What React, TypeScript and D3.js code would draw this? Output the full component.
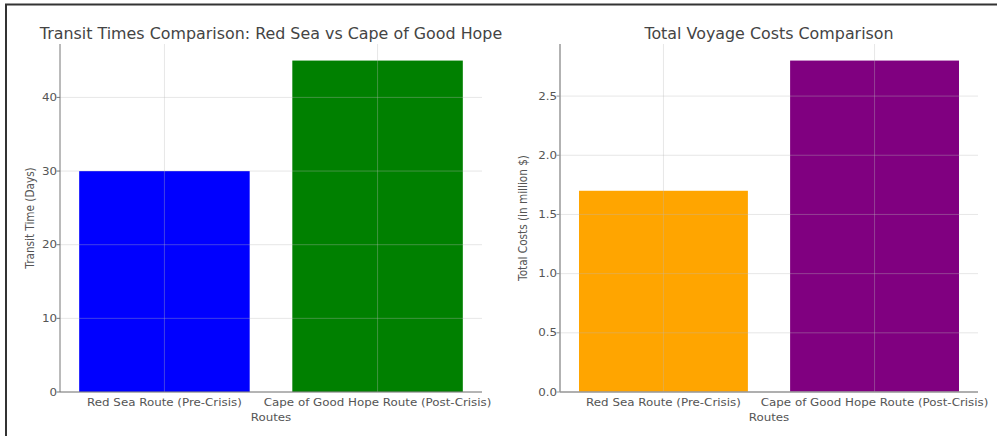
import React from 'react';
import * as d3 from 'd3';

const routes = ['Red Sea Route (Pre-Crisis)', 'Cape of Good Hope Route (Post-Crisis)'];
const transitDays = [30, 45];
const totalCosts = [1.7, 2.8];
const transitColors = ['#0000ff', '#008000'];
const costColors = ['#ffa500', '#800080'];
const transitTicks = [0, 10, 20, 30, 40];
const costTicks = [0, 0.5, 1.0, 1.5, 2.0, 2.5];

const W = 997;
const H = 436;
const FONT = 'DejaVu Sans, sans-serif';
// the source picture is a bit wider than tall, text looks stretched sideways
const SX = 1.13;

function Txt({ x, y, size, fill, anchor = 'middle', dy, rotate, sx = SX, children }: any) {
  const tf = rotate
    ? `translate(${x},${y}) rotate(${rotate}) scale(1,${sx})`
    : `translate(${x},${y}) scale(${sx},1)`;
  return (
    <text transform={tf} textAnchor={anchor} fontSize={size} fill={fill} dy={dy}>
      {children}
    </text>
  );
}

interface PanelProps {
  left: number;
  right: number;
  title: string;
  yLabel: string;
  yLabelX: number;
  values: number[];
  colors: string[];
  ticks: number[];
  tickFmt: (v: number) => string;
  axisColor: string;
  axisWidth: number;
}

function Panel({ left, right, title, yLabel, yLabelX, values, colors, ticks, tickFmt, axisColor, axisWidth }: PanelProps) {
  const top = 44;
  const bottom = 392;
  const maxV = d3.max(values) || 1;

  // matplotlib-ish margins: 5% on y top, 0.09 around bars on x
  const x = d3.scaleLinear().domain([-0.49, routes.length - 1 + 0.49]).range([left, right]);
  const y = d3.scaleLinear().domain([0, maxV * 1.05]).range([bottom, top]);
  const barW = x(0.8) - x(0);

  return (
    <g fontFamily={FONT}>
      {values.map((v, i) => (
        <rect
          key={i}
          x={x(i) - barW / 2}
          y={y(v)}
          width={barW}
          height={y(0) - y(v)}
          fill={colors[i]}
        />
      ))}

      {/* grid on top of bars, faint */}
      {ticks.map(t => (
        <line key={'gy' + t} x1={left} x2={right} y1={y(t)} y2={y(t)} stroke="#b8b8b8" strokeOpacity={0.35} strokeWidth={1} />
      ))}
      {routes.map((_, i) => (
        <line key={'gx' + i} x1={x(i)} x2={x(i)} y1={top} y2={bottom} stroke="#b8b8b8" strokeOpacity={0.35} strokeWidth={1} />
      ))}

      {/* spines */}
      <line x1={left} x2={left} y1={top} y2={bottom} stroke={axisColor} strokeWidth={axisWidth} />
      <line x1={left} x2={right} y1={bottom} y2={bottom} stroke={axisColor} strokeWidth={axisWidth} />

      {ticks.map(t => (
        <g key={'t' + t}>
          <line x1={left - 3.5} x2={left} y1={y(t)} y2={y(t)} stroke={axisColor} strokeWidth={1} />
          <Txt x={left - 3} y={y(t)} dy="0.35em" anchor="end" size={10.5} fill="#555">
            {tickFmt(t)}
          </Txt>
        </g>
      ))}

      {routes.map((r, i) => (
        <Txt key={'xl' + i} x={x(i)} y={406} size={10.5} fill="#555">
          {r}
        </Txt>
      ))}

      <Txt x={(left + right) / 2} y={421} size={10.5} fill="#555">
        Routes
      </Txt>
      <Txt x={yLabelX} y={(top + bottom) / 2} rotate={-90} size={10.5} fill="#555">
        {yLabel}
      </Txt>
      <Txt x={(left + right) / 2} y={39} size={15} sx={1.06} fill="#444">
        {title}
      </Txt>
    </g>
  );
}

export default function App() {
  return (
    <svg width={W} height={H} style={{ position: 'absolute', left: 0, top: 0, background: '#fff' }}>
      <rect x={0} y={0} width={W} height={H} fill="#fff" />
      <Panel
        left={60}
        right={482}
        title="Transit Times Comparison: Red Sea vs Cape of Good Hope"
        yLabel="Transit Time (Days)"
        yLabelX={34}
        values={transitDays}
        colors={transitColors}
        ticks={transitTicks}
        tickFmt={v => String(v)}
        axisColor="#777"
        axisWidth={1}
      />
      <Panel
        left={560}
        right={978}
        title="Total Voyage Costs Comparison"
        yLabel="Total Costs (in million $)"
        yLabelX={527}
        values={totalCosts}
        colors={costColors}
        ticks={costTicks}
        tickFmt={v => v.toFixed(1)}
        axisColor="#999"
        axisWidth={1.5}
      />
      {/* frame: only left and top edges fall inside the picture */}
      <path d={`M6,${H} L6,4.5 L${W},4.5`} fill="none" stroke="#333" strokeWidth={2} />
    </svg>
  );
}
